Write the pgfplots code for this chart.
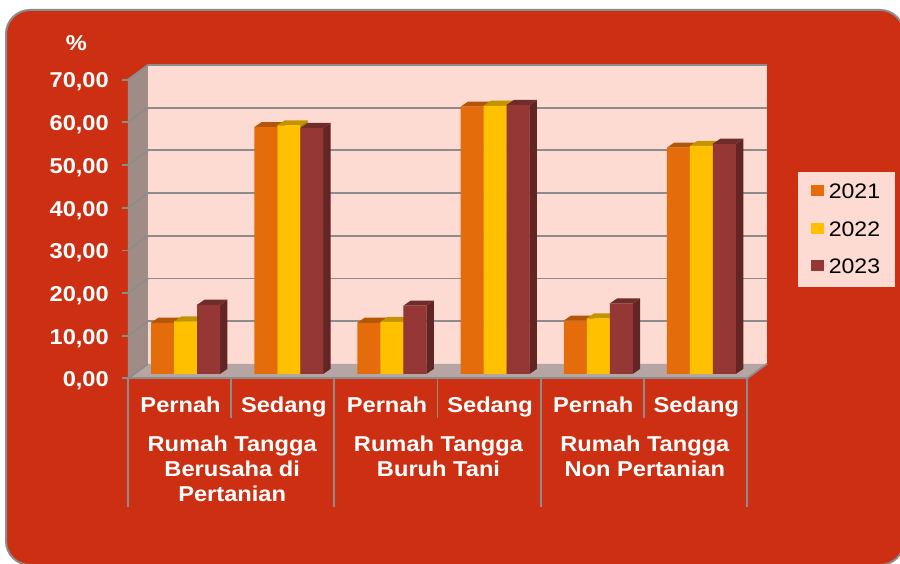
\documentclass[border=0pt]{standalone}
\usepackage{fontspec}
\setmainfont[FakeStretch=1.1]{Liberation Sans}
\usepackage{pgfplots}
\pgfplotsset{compat=1.18}
\definecolor{bgred}{HTML}{CD2F12}
\definecolor{wall}{HTML}{FDDBD3}
\definecolor{sidewall}{HTML}{A08C86}
\definecolor{floorc}{HTML}{B5A6A3}
\definecolor{gridc}{HTML}{8C8C8C}
\definecolor{c21}{HTML}{E46C0A}
\definecolor{c21t}{HTML}{B45608}
\definecolor{c22}{HTML}{FFC000}
\definecolor{c22t}{HTML}{C49400}
\definecolor{c23}{HTML}{953735}
\definecolor{c23s}{HTML}{632523}
\definecolor{c23t}{HTML}{6E2C2A}
\definecolor{c21s}{HTML}{9A4A07}
\definecolor{c22s}{HTML}{B08600}

% one pixel of the reference = 1pt; x in categories, y in %
\def\dxw{0.1938}
\def\dyw{3.44}

\newcommand{\gridline}[1]{%
  \pgfmathsetmacro\gy{#1+\dyw}
  \addplot[gridc, line width=1.8pt] coordinates {(0,#1) (\dxw,\gy)};
  \addplot[gridc, line width=1.8pt] coordinates {(\dxw,\gy) (6.1938,\gy)};
}
% side and top faces of one bar: category, offset in px, value, side, top
\newcommand{\barfaces}[5]{%
  \pgfmathsetmacro\xa{#1+(#2)/103.17}
  \pgfmathsetmacro\xb{\xa+23/103.17}
  \pgfmathsetmacro\xc{\xb+7.5/103.17}
  \pgfmathsetmacro\xd{\xa+7.5/103.17}
  \pgfmathsetmacro\ya{1.2}
  \pgfmathsetmacro\yb{#3+1.2}
  \addplot[fill=#4, draw=none, yshift=4.5pt, forget plot] coordinates {(\xb,0) (\xc,\ya) (\xc,\yb) (\xb,#3)} --cycle;
  \addplot[fill=#5, draw=none, yshift=4.5pt, forget plot] coordinates {(\xa,#3) (\xb,#3) (\xc,\yb) (\xd,\yb)} --cycle;
}
\newcommand{\grouplabel}[3]{%
  \node[anchor=base, xshift=1pt, text=white, font=\fontsize{21.5}{25}\selectfont\bfseries] at (axis cs:#1,#2) {#3};
}

\begin{document}
\begin{tikzpicture}[x=1pt,y=1pt]
\useasboundingbox (0,0) rectangle (900,563);
\begin{scope}
\clip (0,0) rectangle (900,563);
\fill[white] (0,0) rectangle (900,563);
\draw[gridc, line width=2pt, fill=bgred, rounded corners=24pt] (6,-2) rectangle (904,553);
\end{scope}
\begin{axis}[
  at={(128pt,184.5pt)}, anchor=south west,
  scale only axis, width=619pt, height=298.9pt,
  xmin=0, xmax=6, ymin=0, ymax=70,
  clip=false,
  axis line style={draw=none},
  xtick={0.5,1.5,2.5,3.5,4.5,5.5},
  xticklabels={Pernah,Sedang,Pernah,Sedang,Pernah,Sedang},
  x tick style={draw=none},
  xticklabel style={anchor=base, xshift=1pt, yshift=-27.5pt, text=white, font=\fontsize{21.5}{25}\selectfont\bfseries},
  ytick={0,10,20,30,40,50,60,70},
  y tick style={draw=gridc, line width=1.8pt},
  major tick length=6pt,
  tick align=outside,
  ytick pos=left,
  xtick pos=bottom,
  yticklabel style={anchor=east, inner sep=0pt, xshift=-13pt, yshift=-2.5pt, text=white, font=\fontsize{21.5}{25}\selectfont\bfseries,
    /pgf/number format/.cd, fixed, fixed zerofill, precision=2, use comma, assume math mode=true},
  legend style={at={(1.0825,0.692)}, anchor=north west, draw=none, fill=wall, inner xsep=13pt, inner ysep=10pt,
    font=\fontsize{21}{25}\selectfont, text=black, row sep=17.5pt, cells={anchor=west},
    /tikz/every even column/.append style={column sep=0pt}},
  legend image code/.code={\fill[#1] (0pt,-8.5pt) rectangle (12.4pt,2.5pt); \path (0pt,-3pt) -- (15.5pt,-3pt);},
]
% walls and floor
\addplot[fill=wall, draw=none, forget plot] coordinates {(0.1938,3.44) (6.1938,3.44) (6.1938,73.44) (0.1938,73.44)} --cycle;
\addplot[fill=sidewall, draw=none, forget plot] coordinates {(0,0) (0.1938,3.44) (0.1938,73.44) (0,70)} --cycle;
\addplot[fill=floorc, draw=none, forget plot] coordinates {(0,0) (6,0) (6.1938,3.44) (0.1938,3.44)} --cycle;
\pgfplotsset{every axis plot/.append style={forget plot}}
\gridline{10}\gridline{20}\gridline{30}\gridline{40}\gridline{50}\gridline{60}\gridline{70}
\addplot[gridc, line width=1.8pt] coordinates {(0,0) (0.1938,3.44)};
\addplot[gridc, line width=1.8pt] coordinates {(6,0) (6.1938,3.44)};
\addplot[gridc, line width=2pt] coordinates {(-0.06,0) (6,0)};
% separators under the axis
\addplot[gridc, line width=1.8pt] coordinates {(0,0) (0,-30.1)};
\addplot[gridc, line width=1.8pt] coordinates {(1,0) (1,-9.3)};
\addplot[gridc, line width=1.8pt] coordinates {(2,0) (2,-30.1)};
\addplot[gridc, line width=1.8pt] coordinates {(3,0) (3,-9.3)};
\addplot[gridc, line width=1.8pt] coordinates {(4,0) (4,-30.1)};
\addplot[gridc, line width=1.8pt] coordinates {(5,0) (5,-9.3)};
\addplot[gridc, line width=1.8pt] coordinates {(6,0) (6,-30.1)};
% bar sides and tops, left to right
\barfaces{0.5}{-28.6}{12.0}{c21s}{c21t}\barfaces{0.5}{-5.6}{12.3}{c22s}{c22t}\barfaces{0.5}{17.4}{16.2}{c23s}{c23t}
\barfaces{1.5}{-28.6}{57.8}{c21s}{c21t}\barfaces{1.5}{-5.6}{58.2}{c22s}{c22t}\barfaces{1.5}{17.4}{57.6}{c23s}{c23t}
\barfaces{2.5}{-28.6}{12.0}{c21s}{c21t}\barfaces{2.5}{-5.6}{12.2}{c22s}{c22t}\barfaces{2.5}{17.4}{16.0}{c23s}{c23t}
\barfaces{3.5}{-28.6}{62.6}{c21s}{c21t}\barfaces{3.5}{-5.6}{62.8}{c22s}{c22t}\barfaces{3.5}{17.4}{63.0}{c23s}{c23t}
\barfaces{4.5}{-28.6}{12.5}{c21s}{c21t}\barfaces{4.5}{-5.6}{13.0}{c22s}{c22t}\barfaces{4.5}{17.4}{16.5}{c23s}{c23t}
\barfaces{5.5}{-28.6}{53.0}{c21s}{c21t}\barfaces{5.5}{-5.6}{53.4}{c22s}{c22t}\barfaces{5.5}{17.4}{53.9}{c23s}{c23t}
\pgfplotsset{every axis plot/.append style={forget plot=false}}
% front faces
\addplot[ybar, bar width=23pt, bar shift=-17pt, fill=c21, draw=none, yshift=4.5pt] coordinates {(0.5,12.0) (1.5,57.8) (2.5,12.0) (3.5,62.6) (4.5,12.5) (5.5,53.0)};
\addlegendentry{2021}
\addplot[ybar, bar width=23pt, bar shift=6pt, fill=c22, draw=none, yshift=4.5pt] coordinates {(0.5,12.3) (1.5,58.2) (2.5,12.2) (3.5,62.8) (4.5,13.0) (5.5,53.4)};
\addlegendentry{2022}
\addplot[ybar, bar width=23pt, bar shift=29pt, fill=c23, draw=none, yshift=4.5pt] coordinates {(0.5,16.2) (1.5,57.6) (2.5,16.0) (3.5,63.0) (4.5,16.5) (5.5,53.9)};
\addlegendentry{2023}
% group labels
\grouplabel{1}{-16.98}{Rumah Tangga}
\grouplabel{1}{-22.95}{Berusaha di}
\grouplabel{1}{-28.9}{Pertanian}
\grouplabel{3}{-16.98}{Rumah Tangga}
\grouplabel{3}{-22.95}{Buruh Tani}
\grouplabel{5}{-16.98}{Rumah Tangga}
\grouplabel{5}{-22.95}{Non Pertanian}
\node[anchor=base, text=white, font=\fontsize{21.5}{25}\selectfont\bfseries] at (axis cs:-0.5,76.8) {\%};
\end{axis}
\end{tikzpicture}
\end{document}
